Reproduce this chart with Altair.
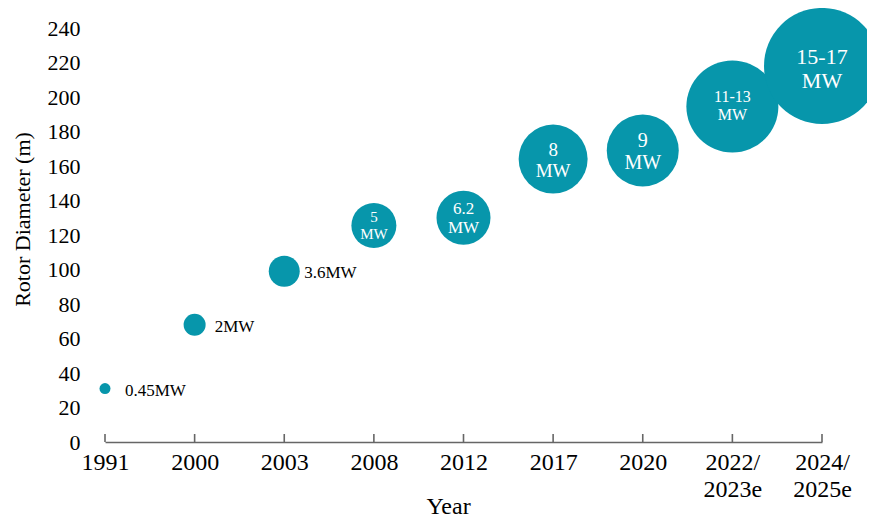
import altair as alt
import pandas as pd

years = ["1991", "2000", "2003", "2008", "2012", "2017", "2020", "2022/2023e", "2024/2025e"]
rotor_diameter = [31, 68, 99, 125.5, 130, 164, 169, 194.5, 218]
capacity_label = ["0.45", "2", "3.6", "5", "6.2", "8", "9", "11-13", "15-17"]
capacity_mw = [0.45, 2, 3.6, 5, 6.2, 8, 9, 12, 16]
y_ticks = [0, 20, 40, 60, 80, 100, 120, 140, 160, 180, 200, 220, 240]

df = pd.DataFrame({
    "year": years,
    "diameter": rotor_diameter,
    "cap": capacity_label,
    "mw": capacity_mw,
})

TEAL = "#0796ab"
FONT = "Liberation Serif"

x_scale = alt.Scale(type="point", padding=0)
y_scale = alt.Scale(domain=[0, 240], nice=False)

x_axis = alt.Axis(
    title="Year", domain=True, domainColor="#666", domainWidth=1.6,
    ticks=False, labelAngle=0,
    labelFont=FONT, labelFontSize=24, labelColor="#000",
    labelPadding=8, labelLineHeight=27, labelBaseline="top",
    labelExpr="length(datum.label) > 4 ? [slice(datum.label, 0, 5), slice(datum.label, 5)] : datum.label",
    titleFont=FONT, titleFontSize=24, titleFontWeight="normal", titleColor="#000",
    titleX=343, titleY=64, titleBaseline="middle", titleAnchor="start", titleAlign="center",
    grid=False,
)

y_axis = alt.Axis(
    title="Rotor Diameter (m)", values=y_ticks, tickCount=13,
    labelOverlap=False, labelSeparation=0,
    domain=False, ticks=False, grid=False,
    labelFont=FONT, labelFontSize=22, labelColor="#000", labelPadding=25,
    titleFont=FONT, titleFontSize=22, titleFontWeight="normal", titleColor="#000",
    titleX=-83, titleY=191, titleAlign="center", titleBaseline="middle", titleAngle=-90,
)

def X():
    return alt.X("year:O", sort=years, scale=x_scale, axis=x_axis)

def Y():
    return alt.Y("diameter:Q", scale=y_scale, axis=y_axis)

base = alt.Chart(df)

bubbles = base.mark_circle(opacity=1, color=TEAL).encode(
    x=X(),
    y=Y(),
    size=alt.Size(
        "mw:Q",
        scale=alt.Scale(domain=capacity_mw,
                        range=[121, 484, 961, 2025, 2916, 4761, 5184, 8464, 13456]),
        legend=None,
    ),
)

ticks = base.transform_calculate(zero="0").mark_rule(
    color="#666", strokeWidth=1.6, y2Offset=-8
).encode(
    x=X(),
    y=alt.Y("zero:Q", scale=y_scale, axis=y_axis),
    y2="zero:Q",
)

inner_text = base.transform_filter("datum.mw >= 5").transform_calculate(
    txt="datum.cap + '\\n' + 'MW'"
).mark_text(color="white", font=FONT, lineBreak="\n", baseline="middle", align="center", dy=-9).encode(
    x=X(),
    y=Y(),
    text="txt:N",
    size=alt.Size(
        "mw:Q",
        scale=alt.Scale(domain=[5, 6.2, 8, 9, 12, 16], range=[15, 17, 19, 20, 16, 22]),
        legend=None,
    ),
)

outer_text = base.transform_filter("datum.mw < 5").transform_calculate(
    txt="datum.cap + 'MW'"
).mark_text(color="black", font=FONT, fontSize=17, align="left", baseline="middle", dx=20, dy=2).encode(
    x=X(),
    y=Y(),
    text="txt:N",
)

chart = alt.layer(bubbles, ticks, inner_text, outer_text).resolve_scale(
    size="independent"
).properties(
    width=717, height=414,
    background="white",
    autosize=alt.AutoSizeParams(type="none"),
    padding={"left": 97, "top": 20, "right": 45, "bottom": 75},
).configure_view(strokeWidth=0).configure_axis(grid=False, labelOverlap=False).configure_axisY(labelOverlap=False)

chart.save("out.html", embed_options={"renderer": "svg", "actions": False})
